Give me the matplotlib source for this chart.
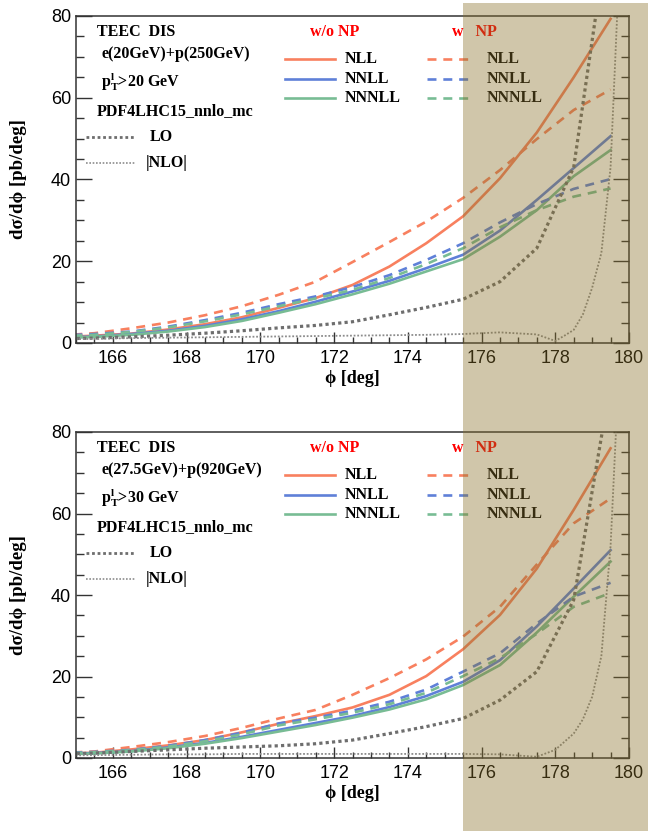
import matplotlib
matplotlib.use("Agg")
import matplotlib.pyplot as plt
from matplotlib.lines import Line2D
from matplotlib.patches import Rectangle
from matplotlib.ticker import MultipleLocator

plt.rcParams['mathtext.fontset'] = 'custom'
plt.rcParams['mathtext.rm'] = 'Liberation Serif:bold'
plt.rcParams['mathtext.it'] = 'Liberation Serif:bold'
plt.rcParams['mathtext.bf'] = 'Liberation Serif:bold'

# ---- data -------------------------------------------------------------
phi = [164.5, 165.5, 166.5, 167.5, 168.5, 169.5, 170.5, 171.5,
       172.5, 173.5, 174.5, 175.5, 176.5, 177.5, 178.5, 179.5]
nlo_phi = [164.5, 165.5, 166.5, 167.5, 168.5, 169.5, 170.5, 171.5,
           172.5, 173.5, 174.5, 175.5, 176.5, 177.5,
           178.0, 178.25, 178.5, 178.75, 179.0, 179.25, 179.5, 179.75]

# e(20GeV)+p(250GeV), pT > 20 GeV
nll_top = [1.4, 1.8, 2.3, 3.3, 4.6, 6.3, 8.6, 11.0, 14.2, 18.7, 24.4, 31.0, 40.3, 51.5, 65.0, 79.3]
nll_np_top = [1.8, 2.4, 3.6, 5.0, 6.8, 9.0, 11.8, 15.0, 19.8, 24.7, 29.7, 35.5, 42.3, 49.9, 57.0, 62.0]
nnll_top = [1.3, 1.6, 2.2, 3.0, 4.2, 5.8, 7.8, 10.1, 12.6, 15.2, 18.3, 21.6, 27.5, 35.0, 42.8, 50.6]
nnll_np_top = [1.8, 2.2, 2.8, 4.0, 5.6, 7.4, 9.5, 11.4, 13.7, 16.6, 20.3, 24.4, 29.5, 34.0, 37.7, 40.1]
nnnll_top = [1.2, 1.5, 2.0, 2.8, 3.9, 5.4, 7.4, 9.5, 11.9, 14.5, 17.5, 20.5, 26.0, 32.5, 40.8, 47.2]
nnnll_np_top = [1.6, 2.0, 2.7, 3.8, 5.3, 7.0, 9.0, 10.9, 13.0, 15.9, 19.3, 23.2, 28.3, 32.5, 35.8, 37.8]
lo_top = [1.0, 1.2, 1.5, 1.9, 2.4, 3.0, 3.7, 4.3, 5.2, 6.9, 8.7, 10.7, 15.0, 23.2, 43.0, 105.0]
nlo_top = [0.9, 1.0, 1.2, 1.3, 1.4, 1.5, 1.6, 1.7, 1.8, 1.9, 2.0, 2.2, 2.6, 2.1,
           0.5, 1.8, 3.2, 7.0, 13.5, 22.0, 43.0, 95.0]

# e(27.5GeV)+p(920GeV), pT > 30 GeV
nll_bot = [1.0, 1.3, 2.1, 3.1, 4.4, 6.3, 8.4, 10.3, 12.4, 15.5, 20.1, 26.7, 35.1, 46.5, 60.9, 76.0]
nll_np_bot = [1.2, 1.6, 2.7, 3.9, 5.4, 7.4, 9.7, 11.8, 15.5, 19.6, 24.2, 29.8, 37.1, 47.5, 57.6, 63.7]
nnll_bot = [1.0, 1.2, 1.7, 2.6, 3.7, 5.2, 6.9, 8.6, 10.3, 12.5, 15.2, 18.7, 24.0, 32.3, 41.6, 51.0]
nnll_np_bot = [1.2, 1.5, 2.0, 3.0, 4.4, 6.2, 8.5, 9.9, 11.6, 13.8, 16.8, 21.2, 25.7, 33.0, 39.6, 43.0]
nnnll_bot = [0.9, 1.1, 1.6, 2.4, 3.5, 4.9, 6.5, 8.1, 9.9, 11.9, 14.4, 17.9, 22.8, 30.8, 39.6, 48.2]
nnnll_np_bot = [1.1, 1.4, 1.9, 2.8, 4.1, 5.8, 8.0, 9.5, 11.1, 13.2, 16.0, 20.1, 24.5, 30.5, 37.1, 40.5]
lo_bot = [1.0, 1.2, 1.6, 2.0, 2.4, 2.7, 3.0, 3.5, 4.4, 6.0, 7.7, 9.7, 14.2, 21.2, 38.8, 92.0]
nlo_bot = [0.6, 0.7, 0.8, 0.9, 0.9, 1.0, 1.0, 1.0, 1.0, 1.0, 1.0, 1.0, 0.9, 0.3,
           2.0, 4.0, 6.0, 9.5, 15.0, 25.0, 52.0, 100.0]

panels = [
    dict(beam="e(20GeV)+p(250GeV)", cut=r"$\mathrm{p}_\mathrm{T}^\mathrm{l}$>20 GeV",
         nll=nll_top, nll_np=nll_np_top, nnll=nnll_top, nnll_np=nnll_np_top,
         nnnll=nnnll_top, nnnll_np=nnnll_np_top, lo=lo_top, nlo=nlo_top),
    dict(beam="e(27.5GeV)+p(920GeV)", cut=r"$\mathrm{p}_\mathrm{T}^\mathrm{l}$>30 GeV",
         nll=nll_bot, nll_np=nll_np_bot, nnll=nnll_bot, nnll_np=nnll_np_bot,
         nnnll=nnnll_bot, nnnll_np=nnnll_np_bot, lo=lo_bot, nlo=nlo_bot),
]

# ---- styles -----------------------------------------------------------
C_NLL = '#F8805F'
C_NNLL = '#5F80D8'
C_NNNLL = '#78BC94'
C_LO = '#6E6E6E'
C_NLO = '#8C8C8C'
LW = 1.9
DASH = (3.4, 2.6)
SERIF = ['Liberation Serif', 'DejaVu Serif']
SANS = ['Liberation Sans', 'DejaVu Sans']

W, H = 648, 831
fig = plt.figure(figsize=(W / 100, H / 100), dpi=100)


def fx(x):
    return x / W


def fy(y):
    return 1 - y / H


axes_px = [(16, 343), (432, 758)]
left_px, right_px = 76, 629

for k, (p, (ytop, ybot)) in enumerate(zip(panels, axes_px)):
    ax = fig.add_axes([fx(left_px), fy(ybot), (right_px - left_px) / W, (ybot - ytop) / H])
    ax.set_xlim(165, 180)
    ax.set_ylim(0, 80)

    ax.plot(phi, p['nll'], color=C_NLL, lw=LW)
    ax.plot(phi, p['nnll'], color=C_NNLL, lw=LW)
    ax.plot(phi, p['nnnll'], color=C_NNNLL, lw=LW)
    ax.plot(phi, p['nll_np'], color=C_NLL, lw=LW, dashes=DASH)
    ax.plot(phi, p['nnll_np'], color=C_NNLL, lw=LW, dashes=DASH)
    ax.plot(phi, p['nnnll_np'], color=C_NNNLL, lw=LW, dashes=DASH)
    ax.plot(phi, p['lo'], color=C_LO, lw=2.3, dashes=(1.0, 1.0))
    ax.plot(nlo_phi, p['nlo'], color=C_NLO, lw=1.3, dashes=(1.0, 1.0))

    ax.xaxis.set_major_locator(MultipleLocator(2))
    ax.xaxis.set_minor_locator(MultipleLocator(0.5))
    ax.yaxis.set_major_locator(MultipleLocator(20))
    ax.yaxis.set_minor_locator(MultipleLocator(5))
    ax.tick_params(axis='both', which='both', direction='in', color='#333333')
    ax.tick_params(axis='y', which='both', left=True, right=True)
    ax.tick_params(axis='y', which='major', length=11.5, width=1.0)
    ax.tick_params(axis='y', which='minor', length=5.5, width=1.0)
    ax.tick_params(axis='x', which='major', length=8, width=1.0, pad=5)
    ax.tick_params(axis='x', which='minor', length=4, width=1.0)
    ax.tick_params(axis='x', which='both', top=False)
    for lab in ax.get_xticklabels() + ax.get_yticklabels():
        lab.set_family(SANS)
        lab.set_fontsize(13)
    for s in ax.spines.values():
        s.set_color('#333333')
        s.set_linewidth(1.1)

    ax.set_xlabel('\u03d5 [deg]', family=SERIF, weight='bold', fontsize=13, labelpad=2)
    ax.set_ylabel('d\u03c3/d\u03d5 [pb/deg]', family=SERIF, weight='bold', fontsize=13.5, labelpad=17)

    off = 416 * k
    tkw = dict(family=SERIF, weight='bold', fontsize=11.5, va='center', ha='left')
    fig.text(fx(97), fy(32 + off), 'TEEC  DIS', **tkw)
    fig.text(fx(101), fy(54 + off), p['beam'], **tkw)
    fig.text(fx(101), fy(82 + off), p['cut'], **tkw)
    fig.text(fx(97), fy(111 + off), 'PDF4LHC15_nnlo_mc', **tkw)

    fig.add_artist(Line2D([fx(86), fx(136)], [fy(137 + off)] * 2, color=C_LO, lw=2.0,
                          dashes=(1.0, 1.0), transform=fig.transFigure))
    fig.text(fx(150), fy(137 + off), 'LO', **tkw)
    fig.add_artist(Line2D([fx(86), fx(136)], [fy(163 + off)] * 2, color=C_NLO, lw=1.2,
                          dashes=(1.0, 1.0), transform=fig.transFigure))
    fig.text(fx(146), fy(163 + off), '|NLO|', **tkw)

    fig.text(fx(310), fy(32 + off), 'w/o NP', color='#FF0000', **tkw)
    fig.text(fx(452), fy(32 + off), 'w   NP', color='#FF0000', **tkw)

    for row, (col, name) in enumerate([(C_NLL, 'NLL'), (C_NNLL, 'NNLL'), (C_NNNLL, 'NNNLL')]):
        yy = fy([59, 79, 98][row] + off)
        fig.add_artist(Line2D([fx(285), fx(335)], [yy, yy], color=col, lw=LW,
                              transform=fig.transFigure))
        fig.text(fx(345), yy, name, **tkw)
        fig.add_artist(Line2D([fx(427), fx(471)], [yy, yy], color=col, lw=LW, dashes=DASH,
                              transform=fig.transFigure))
        fig.text(fx(487), yy, name, **tkw)

# shaded band from phi = 175.5 to the right edge, spanning both panels
x0 = fx(left_px + (175.5 - 165) / 15 * (right_px - left_px))
shade = Rectangle((x0, 0), 1 - x0, fy(3), transform=fig.transFigure,
                  facecolor=(138 / 255, 113 / 255, 43 / 255), alpha=0.4,
                  edgecolor='none', zorder=10)
fig.add_artist(shade)

fig.savefig('out.png', dpi=100)
